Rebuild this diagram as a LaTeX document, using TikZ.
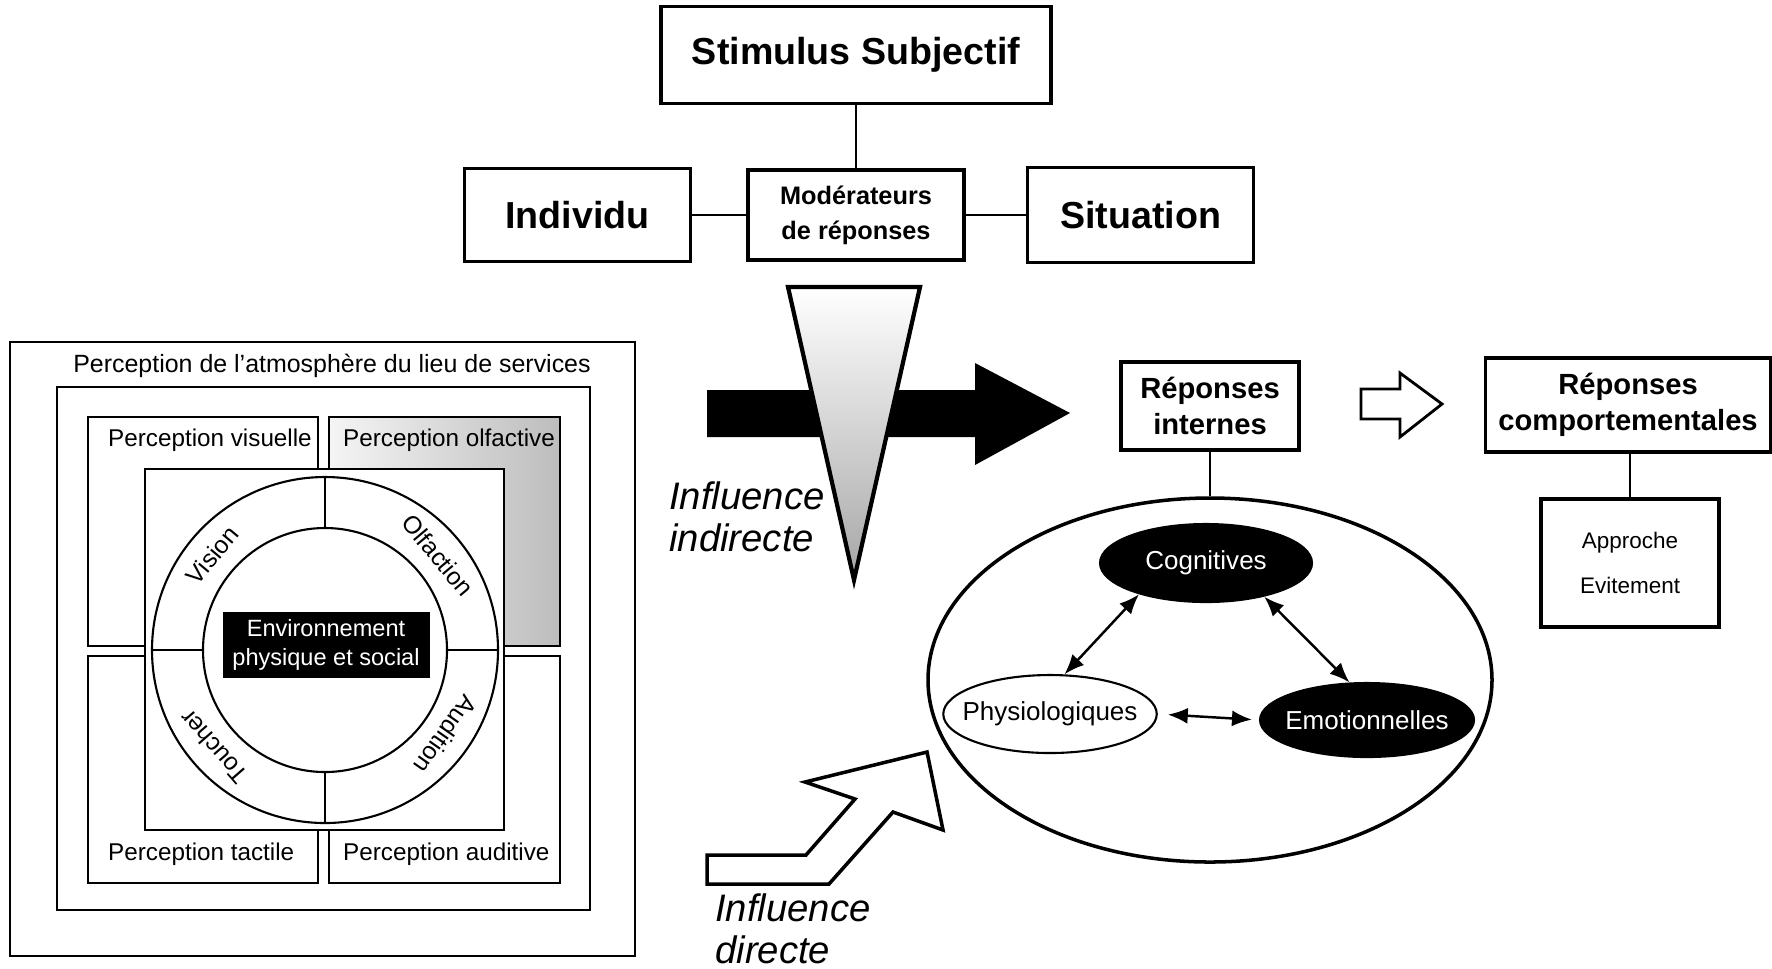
\documentclass[tikz,border=0pt]{standalone}
\usepackage{fontspec}
\setmainfont{Liberation Sans}
\usetikzlibrary{positioning,shapes.geometric,arrows.meta}

\begin{document}
\begin{tikzpicture}[x=0.1mm, y=-0.1mm, line width=0.7pt,
    topbox/.style={rectangle, draw, line width=1pt, inner sep=0pt, align=center, font=\bfseries\fontsize{10.7}{13}\selectfont},
    respbox/.style={rectangle, draw, line width=0.9pt, inner sep=0pt, align=center, font=\bfseries\fontsize{8.3}{10.2}\selectfont},
    panel/.style={draw, line width=0.6pt},
    sense/.style={inner sep=0pt, anchor=west, font=\fontsize{6.9}{8}\selectfont},
    ringlbl/.style={inner sep=0pt, font=\fontsize{7}{8}\selectfont},
    blob/.style={ellipse, draw, inner sep=0pt, inner xsep=-1.2mm, line width=0.6pt, font=\fontsize{7.4}{9}\selectfont},
    influence/.style={align=left, inner sep=0pt, anchor=west, font=\itshape\fontsize{10.9}{12}\selectfont},
    mutual/.style={{Latex[length=2mm,width=1.6mm]}-{Latex[length=2mm,width=1.6mm]}, line width=0.7pt},
  ]
  \useasboundingbox (0,0) rectangle (1772,968);

  % moderateurs de reponses
  \node[topbox, minimum width=21.6mm, minimum height=9mm, font=\bfseries\fontsize{7.2}{10}\selectfont] (mod) at (856,215) {Modérateurs\\de réponses};
  \node[topbox, minimum width=39mm, minimum height=9.7mm, above=6.3mm of mod] (stim) {Stimulus Subjectif};
  \node[topbox, minimum width=22.6mm, minimum height=9.3mm, left=5.4mm of mod] (indiv) {Individu};
  \node[topbox, minimum width=22.6mm, minimum height=9.5mm, right=6mm of mod] (situ) {Situation};
  \draw (stim) -- (mod);
  \draw (indiv) -- (mod);
  \draw (mod) -- (situ);

  % perception de l'atmosphere
  \draw[panel, line width=0.8pt] (10,342) rectangle (635,956);
  \node[inner sep=0pt, font=\fontsize{7.1}{8}\selectfont] (title) at (332,366) {Perception de l'atmosphère du lieu de services};
  \draw[panel, line width=0.8pt] (57,387) rectangle (590,910);
  \draw[panel] (88,417) rectangle (318,646);
  \draw[panel, left color=black!4, right color=black!26] (329,417) rectangle (560,646);
  \draw[panel] (88,656) rectangle (318,883);
  \draw[panel] (329,656) rectangle (560,883);
  \node[sense] (visu) at (107,440) {Perception visuelle};
  \node[sense] (olfa) at (342,440) {Perception olfactive};
  \node[sense] (tact) at (107,854) {Perception tactile};
  \node[sense] (audi) at (342,854) {Perception auditive};

  \draw[panel, fill=white] (145,469) rectangle (504,830);
  \coordinate (ctr) at (325,650);
  \draw[panel, fill=white] (ctr) circle[radius=17.3mm];
  \draw[panel, fill=white] (ctr) circle[radius=12.2mm];
  \draw[panel] ([shift={(90:12.2mm)}]ctr) -- ([shift={(90:17.3mm)}]ctr);
  \draw[panel] ([shift={(270:12.2mm)}]ctr) -- ([shift={(270:17.3mm)}]ctr);
  \draw[panel] ([shift={(180:12.2mm)}]ctr) -- ([shift={(180:17.3mm)}]ctr);
  \draw[panel] ([shift={(0:12.2mm)}]ctr) -- ([shift={(0:17.3mm)}]ctr);
  \node[ringlbl, rotate=50] (vision) at ([shift={(140:14.75mm)}]ctr) {Vision};
  \node[ringlbl, rotate=-50] (olfaction) at ([shift={(40:14.75mm)}]ctr) {Olfaction};
  \node[ringlbl, rotate=-125] (audition) at ([shift={(-35:14.75mm)}]ctr) {Audition};
  \node[ringlbl, rotate=131] (toucher) at ([shift={(221:14.75mm)}]ctr) {Toucher};
  \node[fill=black, text=white, align=center, minimum width=20.7mm, minimum height=6.6mm, inner sep=0pt, font=\fontsize{6.7}{8.3}\selectfont] (env) at (326,645) {Environnement\\physique et social};

  % influence indirecte
  \fill (707,390) -- (975,390) -- (975,363) -- (1070,413) -- (975,465) -- (975,437) -- (707,437) -- cycle;
  \draw[line width=1.2pt, top color=white, bottom color=black!35] (788,287) -- (920,287) -- (854,580) -- cycle;
  \node[influence] (indir) at (668,517) {Influence\\indirecte};

  % influence directe
  \draw[line width=1pt] (707,855) -- (806,855) -- (855,799) -- (805,782) -- (927,752) -- (943,830) -- (893,812) -- (829,884) -- (707,884) -- cycle;
  \node[influence] (dir) at (714,929) {Influence\\directe};

  % reponses
  \node[respbox, minimum width=17.8mm, minimum height=8.8mm] (intern) at (1210,406) {Réponses\\internes};
  \node[respbox, minimum width=28.5mm, minimum height=9.4mm] (comport) at (1628,405) {Réponses\\comportementales};
  \node[rectangle, draw, line width=0.9pt, minimum width=17.8mm, minimum height=12.8mm, align=center, font=\fontsize{6.4}{13}\selectfont] (appr) at (1630,563) {Approche\\Evitement};
  \draw[line width=0.8pt] (comport.south -| appr) -- (appr);
  \draw[line width=0.8pt] (1361,389) -- (1400,389) -- (1400,373) -- (1442,404) -- (1400,437) -- (1400,419) -- (1361,419) -- cycle;

  \node[ellipse, draw, line width=1pt, minimum width=56.4mm, minimum height=36.4mm] (resp) at (1210,680) {};
  \draw[line width=0.8pt] (intern) -- (resp);
  \node[blob, fill=black, text=white, minimum width=21.2mm, minimum height=7.8mm] (cog) at (1206,563) {Cognitives};
  \node[blob, fill=white, minimum width=21.2mm, minimum height=7.8mm] (phys) at (1050,714) {Physiologiques};
  \node[blob, fill=black, text=white, minimum width=21.4mm, minimum height=7.4mm] (emo) at (1367,720) {Emotionnelles};
  \draw[mutual] (cog.205) -- (phys.70);
  \draw[mutual] (cog.-30) -- (emo.115);
  \draw[mutual, shorten <=1mm, shorten >=0.7mm] (phys.east) -- (emo.west);
\end{tikzpicture}
\end{document}
